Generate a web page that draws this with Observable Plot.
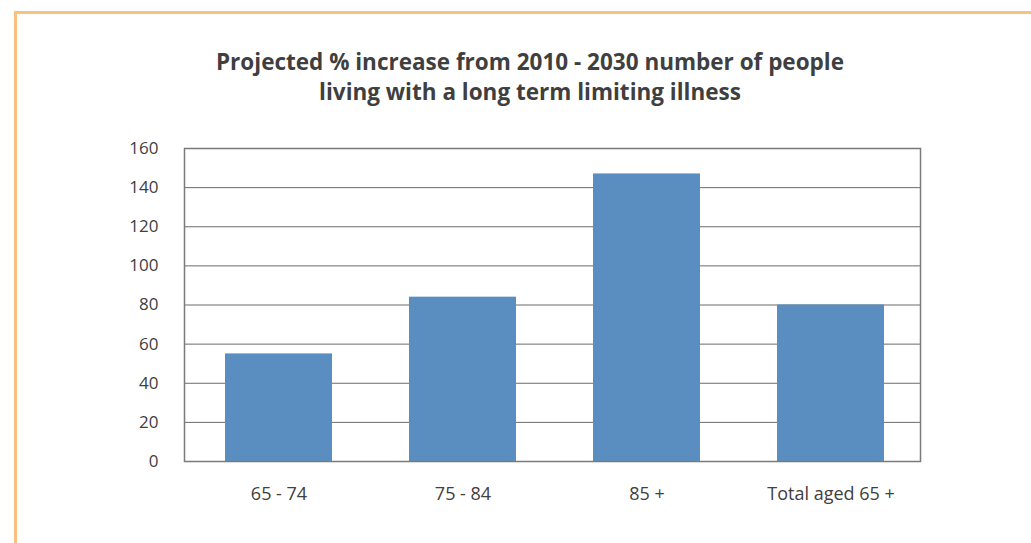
<!DOCTYPE html>
<html>
<head>
<meta charset="utf-8">
<script src="https://cdn.jsdelivr.net/npm/d3@7"></script>
<script src="https://cdn.jsdelivr.net/npm/@observablehq/plot@0.6"></script>
<style>
  html, body { margin: 0; padding: 0; background: #fff; width: 1031px; height: 543px; overflow: hidden; }
  #border { position: absolute; left: 14px; top: 11px; width: 1100px; height: 620px; border: 3px solid #f9c27c; box-sizing: border-box; }
  #title { position: absolute; left: 0; top: 47px; width: 1060px; text-align: center; font-family: "Open Sans", sans-serif; font-weight: bold; font-size: 22.5px; line-height: 30px; color: #3f3f3f; }
  #chart { position: absolute; left: 0; top: 125px; }
</style>
</head>
<body>
<div id="border"></div>
<div id="title">Projected % increase from 2010 - 2030 number of people<br>living with a long term limiting illness</div>
<div id="chart"></div>
<script>
const categories = ["65 - 74", "75 - 84", "85 +", "Total aged 65 +"];
const values = [55, 84, 147, 80];
const yTicks = [0, 20, 40, 60, 80, 100, 120, 140, 160];

const data = categories.map((c, i) => ({category: c, value: values[i]}));

const chart = Plot.plot({
  width: 1031,
  height: 400,
  marginTop: 23,
  marginBottom: 64,
  marginLeft: 184,
  marginRight: 111,
  style: {fontFamily: "Open Sans, sans-serif", fontSize: "17px", color: "#404040", background: "transparent"},
  x: {domain: categories, paddingInner: 0.42, paddingOuter: 0.21, align: 0.527, label: null},
  y: {domain: [0, 160], label: null},
  marks: [
    Plot.ruleY(yTicks, {stroke: "#6b6b6b", strokeWidth: 1}),
    Plot.barY(data, {x: "category", y: "value", fill: "#5b8ec0"}),
    Plot.frame({stroke: "#7a7a7a", strokeWidth: 1.5}),
    Plot.axisY(yTicks, {tickSize: 0, tickPadding: 26, fill: "#404040", fontSize: 17, label: null}),
    Plot.axisX({tickSize: 0, tickPadding: 26, fill: "#404040", fontSize: 18, label: null})
  ]
});
document.getElementById("chart").appendChild(chart);
</script>
</body>
</html>
